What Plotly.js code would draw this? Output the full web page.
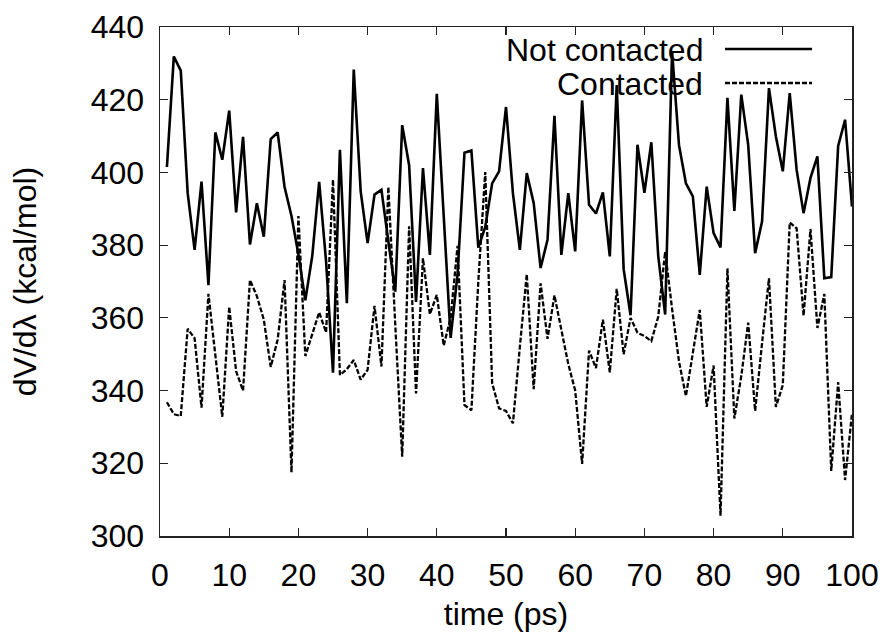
<!DOCTYPE html>
<html>
<head>
<meta charset="utf-8">
<script src="https://cdn.plot.ly/plotly-3.0.1.min.js"></script>
<style>html,body{margin:0;padding:0;background:#fff;}#chart{width:887px;height:641px;}</style>
</head>
<body>
<div id="chart"></div>
<script>
const timePs = Array.from({length: 100}, (_, i) => i + 1);

const notContacted = [
  401.5, 431.9, 428.0, 394.3, 378.7, 397.5, 369.0, 411.0, 403.5, 417.0,
  389.0, 409.8, 380.2, 391.5, 382.3, 409.2, 411.0, 396.0, 388.0, 377.5,
  364.8, 377.0, 397.4, 375.5, 344.9, 406.2, 364.0, 428.3, 394.8, 380.6,
  393.9, 395.2, 381.0, 367.2, 413.0, 402.0, 364.4, 401.2, 377.3, 421.6,
  388.0, 354.5, 372.0, 405.4, 406.0, 379.3, 385.0, 397.0, 400.3, 418.0,
  394.3, 378.7, 399.8, 391.6, 373.7, 381.5, 415.6, 377.3, 394.3, 378.3,
  419.8, 391.1, 388.7, 394.5, 376.9, 424.0, 373.4, 360.7, 407.6, 394.4,
  408.3, 377.0, 360.9, 433.3, 407.5, 397.0, 393.4, 371.8, 396.1, 383.3,
  379.4, 420.5, 389.4, 421.4, 407.6, 377.8, 386.5, 423.2, 409.9, 400.3,
  421.8, 400.7, 388.8, 398.5, 404.4, 370.9, 371.2, 407.3, 414.5, 390.6
];

const contacted = [
  336.8, 333.5, 333.0, 357.0, 354.4, 335.3, 366.6, 350.0, 332.8, 363.0,
  345.3, 340.0, 370.4, 366.0, 359.5, 346.5, 354.0, 370.4, 317.5, 388.0,
  349.5, 355.5, 361.5, 356.0, 398.0, 344.3, 345.9, 348.4, 343.0, 345.7,
  363.3, 346.6, 396.0, 358.0, 321.8, 385.2, 339.2, 376.4, 361.0, 366.3,
  352.4, 360.0, 379.8, 336.0, 334.6, 370.0, 400.1, 342.0, 335.1, 334.4,
  331.0, 352.0, 372.0, 340.4, 369.5, 354.2, 366.2, 356.7, 347.3, 340.0,
  319.8, 351.0, 346.2, 359.5, 345.0, 368.0, 350.0, 360.0, 355.9, 355.0,
  353.6, 360.3, 378.2, 362.5, 348.0, 338.5, 350.0, 362.2, 335.5, 346.9,
  305.6, 373.6, 332.3, 344.0, 358.7, 334.4, 353.0, 370.9, 335.5, 341.5,
  386.2, 384.6, 360.6, 384.4, 357.2, 366.6, 317.9, 342.3, 315.4, 333.7
];

const seriesNames = ["Not contacted", "Contacted"];
const xTitle = "time (ps)";
const yTitle = "dV/dλ (kcal/mol)";

const FONT = "Liberation Sans, Arial, Helvetica, sans-serif";

const traces = [
  {x: timePs, y: notContacted, name: seriesNames[0], type: "scatter", mode: "lines",
   line: {color: "#000", width: 2.6}},
  {x: timePs, y: contacted, name: seriesNames[1], type: "scatter", mode: "lines",
   line: {color: "#000", width: 2.3, dash: "5px,2px"}}
];

const axisCommon = {
  showgrid: false, zeroline: false,
  showline: true, linecolor: "#222", linewidth: 1.5, mirror: "allticks",
  ticks: "inside", ticklen: 8, tickwidth: 1.2, tickcolor: "#222",
  tickfont: {family: FONT, size: 32, color: "#000"}
};

const layout = {
  width: 887, height: 641,
  margin: {l: 160, r: 35, t: 27, b: 105},
  paper_bgcolor: "#fff", plot_bgcolor: "#fff",
  showlegend: false,
  font: {family: FONT, color: "#000"},
  xaxis: Object.assign({}, axisCommon, {
    range: [0, 100], dtick: 10, tick0: 0, ticklabelstandoff: 10,
    title: {text: xTitle, font: {family: FONT, size: 32}, standoff: 10}
  }),
  yaxis: Object.assign({}, axisCommon, {
    range: [300, 440], dtick: 20, tick0: 300, ticklabelstandoff: 8,
    title: {text: yTitle, font: {family: FONT, size: 32}, standoff: 44}
  }),
  annotations: [
    {xref: "paper", yref: "paper", x: 0.7876, y: 0.955, xanchor: "right", yanchor: "middle",
     text: seriesNames[0], showarrow: false, font: {family: FONT, size: 32, color: "#000"}},
    {xref: "paper", yref: "paper", x: 0.7876, y: 0.888, xanchor: "right", yanchor: "middle",
     text: seriesNames[1], showarrow: false, font: {family: FONT, size: 32, color: "#000"}}
  ],
  shapes: [
    {type: "line", xref: "paper", yref: "paper", x0: 0.8165, x1: 0.9422, y0: 0.9568, y1: 0.9568,
     line: {color: "#000", width: 2.6}},
    {type: "line", xref: "paper", yref: "paper", x0: 0.8165, x1: 0.9422, y0: 0.89, y1: 0.89,
     line: {color: "#000", width: 2.3, dash: "5px,2px"}}
  ]
};

Plotly.newPlot("chart", traces, layout, {displayModeBar: false, staticPlot: true});
</script>
</body>
</html>
